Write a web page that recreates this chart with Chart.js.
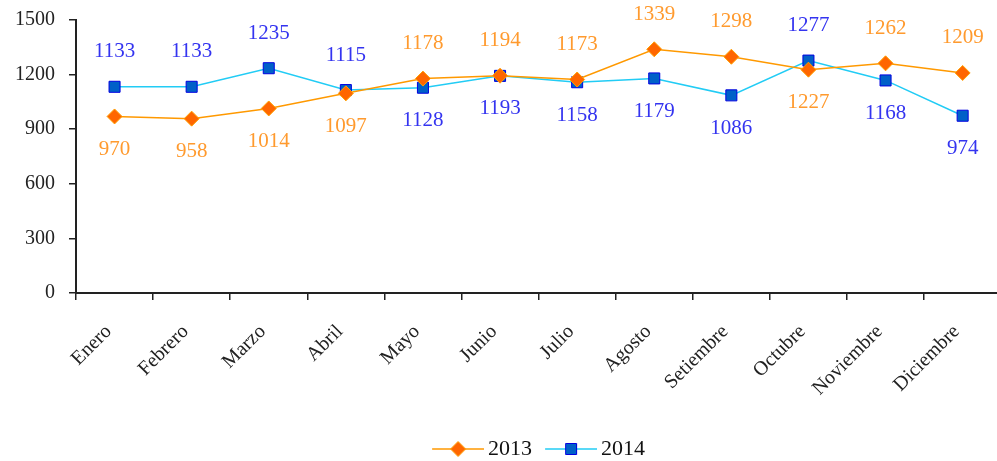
<!DOCTYPE html>
<html>
<head>
<meta charset="utf-8">
<script src="https://cdn.jsdelivr.net/npm/chart.js@4/dist/chart.umd.min.js"></script>
<style>
  html, body { margin: 0; padding: 0; background: #fff; overflow: hidden; }
  #wrap { width: 1010px; height: 461px; }
</style>
</head>
<body>
<div id="wrap"><canvas id="chart" width="1010" height="461"></canvas></div>
<script>
// Data
const months = ['Enero', 'Febrero', 'Marzo', 'Abril', 'Mayo', 'Junio', 'Julio',
    'Agosto', 'Setiembre', 'Octubre', 'Noviembre', 'Diciembre'];
const values2013 = [970, 958, 1014, 1097, 1178, 1194, 1173, 1339, 1298, 1227, 1262, 1209];
const values2014 = [1133, 1133, 1235, 1115, 1128, 1193, 1158, 1179, 1086, 1277, 1168, 974];
const yTicks = [0, 300, 600, 900, 1200, 1500];

const serif = "'Liberation Serif', 'Times New Roman', serif";
const labelColors = ['#FF9A2E', '#3434F0'];

// line + marker image for the legend; wider than the legend box so the
// line runs close to the text like in the original
function legendIcon(lineColor, fill, stroke, shape) {
    const c = document.createElement('canvas');
    c.width = 59; c.height = 16;
    const g = c.getContext('2d');
    g.strokeStyle = lineColor; g.lineWidth = 1.5;
    g.beginPath(); g.moveTo(7, 8); g.lineTo(59, 8); g.stroke();
    g.fillStyle = fill; g.strokeStyle = stroke; g.lineWidth = 1;
    g.beginPath();
    if (shape === 'diamond') {
        g.moveTo(33, 0.5); g.lineTo(40.5, 8); g.lineTo(33, 15.5); g.lineTo(25.5, 8); g.closePath();
    } else {
        g.rect(27.5, 2.5, 11, 11);
    }
    g.fill(); g.stroke();
    return c;
}

// value labels: the higher series gets its label above, the lower one below
const valueLabels = {
    id: 'valueLabels',
    afterDatasetsDraw(chart) {
        const ctx = chart.ctx;
        ctx.save();
        ctx.font = '21px ' + serif;
        ctx.textAlign = 'center';
        ctx.textBaseline = 'middle';
        const sets = chart.data.datasets;
        sets.forEach((ds, di) => {
            const meta = chart.getDatasetMeta(di);
            const other = sets[1 - di].data;
            meta.data.forEach((pt, i) => {
                const above = ds.data[i] >= other[i];
                ctx.fillStyle = labelColors[di];
                ctx.fillText(String(ds.data[i]), pt.x, pt.y + (above ? -35 : 33));
            });
        });
        ctx.restore();
    }
};

const ctx = document.getElementById('chart').getContext('2d');
new Chart(ctx, {
    type: 'line',
    data: {
        labels: months,
        datasets: [
            {
                label: '2013',
                data: values2013,
                borderColor: '#FF9900',
                borderWidth: 1.5,
                backgroundColor: '#FF6600',
                pointStyle: 'rectRot',
                pointRadius: 7.5,
                pointBorderColor: '#FFA000',
                pointBorderWidth: 1,
                pointBackgroundColor: '#FF6600',
                tension: 0
            },
            {
                label: '2014',
                data: values2014,
                borderColor: '#22CCF5',
                borderWidth: 1.5,
                backgroundColor: '#0060C8',
                pointStyle: 'rect',
                pointRadius: 7.8,
                pointBorderColor: '#0000E0',
                pointBorderWidth: 1,
                pointBackgroundColor: '#0060C8',
                tension: 0
            }
        ]
    },
    plugins: [valueLabels],
    options: {
        responsive: false,
        animation: false,
        layout: { padding: { top: 20, right: 6, left: 0, bottom: -9 } },
        plugins: {
            tooltip: { enabled: false },
            legend: {
                position: 'bottom',
                fullSize: false,
                labels: {
                    usePointStyle: true,
                    pointStyleWidth: 45,
                    boxHeight: 16,
                    color: '#111',
                    padding: 13,
                    font: { family: serif, size: 22 },
                    generateLabels(chart) {
                        return [
                            { text: '2013', datasetIndex: 0, fontColor: '#111', lineWidth: 0,
                              pointStyle: legendIcon('#FF9900', '#FF6600', '#FFA000', 'diamond') },
                            { text: '2014', datasetIndex: 1, fontColor: '#111', lineWidth: 0,
                              pointStyle: legendIcon('#22CCF5', '#0060C8', '#0000E0', 'square') }
                        ];
                    }
                }
            }
        },
        scales: {
            x: {
                offset: true,
                grid: { offset: true, drawOnChartArea: false, color: '#222', tickLength: 7, lineWidth: 1.5 },
                border: { color: '#222', width: 2 },
                ticks: {
                    color: '#222',
                    font: { family: serif, size: 20 },
                    minRotation: 45,
                    maxRotation: 45,
                    padding: 20,
                    labelOffset: -6
                },
                afterFit(scale) { scale.height = 132; }
            },
            y: {
                min: 0,
                max: 1500,
                afterBuildTicks(scale) { scale.ticks = yTicks.map(v => ({ value: v })); },
                grid: { drawOnChartArea: false, color: '#222', tickLength: 7, lineWidth: 1.5 },
                border: { color: '#222', width: 2 },
                ticks: {
                    color: '#222',
                    font: { family: serif, size: 20 },
                    padding: 14,
                    callback: v => String(v)
                },
                afterFit(scale) {
                    scale.width = 76;
                    scale.paddingTop = 0;
                    scale.paddingBottom = 0;
                }
            }
        }
    }
});
</script>
</body>
</html>
